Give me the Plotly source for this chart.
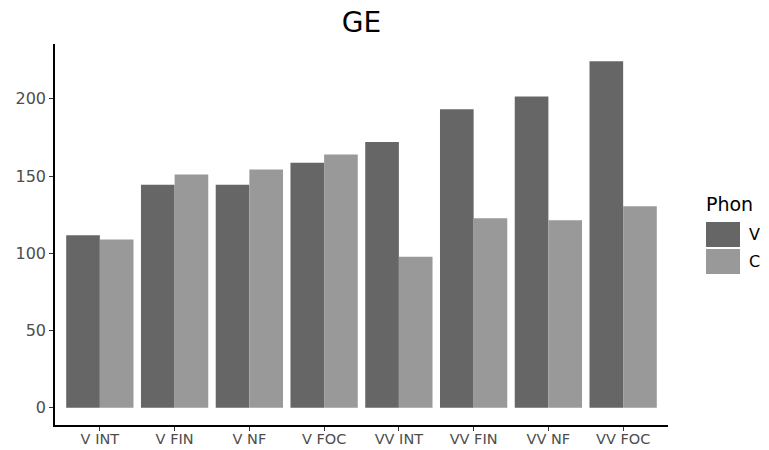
import plotly.graph_objects as go

categories = ["V INT", "V FIN", "V NF", "V FOC", "VV INT", "VV FIN", "VV NF", "VV FOC"]
v_values = [111.7, 144.3, 144.3, 158.6, 172.0, 193.3, 201.5, 224.3]
c_values = [108.9, 151.0, 154.2, 164.0, 97.8, 122.6, 121.3, 130.4]
series_names = ["V", "C"]
series_colors = ["#666666", "#999999"]
y_ticks = [0, 50, 100, 150, 200]

W, H = 769, 450
L, R, T, B = 55, 101, 44, 25
FONT = "DejaVu Sans"

fig = go.Figure()
for name, vals, col in zip(series_names, [v_values, c_values], series_colors):
    fig.add_trace(go.Bar(x=categories, y=vals, name=name, marker_color=col,
                         marker_line_width=0, showlegend=False))

ymax = max(v_values + c_values)
pad = 0.05 * ymax

fig.update_layout(
    width=W, height=H,
    margin=dict(l=L, r=R, t=T, b=B, autoexpand=False),
    paper_bgcolor="white", plot_bgcolor="white",
    barmode="group", bargap=0.1, bargroupgap=0,
    title=dict(text="GE", x=(L + (W - R)) / 2 / W, xanchor="center",
               y=1 - 22 / H, yanchor="middle",
               font=dict(family=FONT, size=28, color="black")),
    font=dict(family=FONT),
)
fig.update_xaxes(
    range=[-0.6, len(categories) - 0.4],
    showline=True, linecolor="black", linewidth=1.6,
    ticks="outside", ticklen=4, tickcolor="#333333", tickwidth=1.2,
    tickfont=dict(family=FONT, size=14.5, color="#4D4D4D"),
    ticklabelstandoff=-4,
    showgrid=False, zeroline=False, automargin=False,
)
fig.update_yaxes(
    range=[-pad, ymax + pad],
    tickvals=y_ticks,
    showline=True, linecolor="black", linewidth=1.6,
    ticks="outside", ticklen=4, tickcolor="#333333", tickwidth=1.2,
    tickfont=dict(family=FONT, size=16, color="#4D4D4D"),
    showgrid=False, zeroline=False, automargin=False,
)

# Legend drawn manually (large ggplot-style keys)
pw = W - L - R
ph = H - T - B
def px_x(x):
    return (x - L) / pw
def px_y(y):
    return 1 - (y - T) / ph

fig.add_annotation(text="Phon", x=px_x(704), y=px_y(204), xref="paper", yref="paper",
                   xanchor="left", yanchor="middle", showarrow=False,
                   font=dict(family=FONT, size=19, color="black"))
key_tops = [222, 249]
for name, col, top in zip(series_names, series_colors, key_tops):
    fig.add_shape(type="rect", xref="paper", yref="paper",
                  x0=px_x(706), x1=px_x(740), y0=px_y(top + 25), y1=px_y(top),
                  fillcolor=col, line=dict(width=0))
    fig.add_annotation(text=name, x=px_x(747), y=px_y(top + 12.5), xref="paper", yref="paper",
                       xanchor="left", yanchor="middle", showarrow=False,
                       font=dict(family=FONT, size=16, color="black"))

fig.write_html("out.html", config={"displayModeBar": False},
               post_script="document.body.style.margin='0';")
